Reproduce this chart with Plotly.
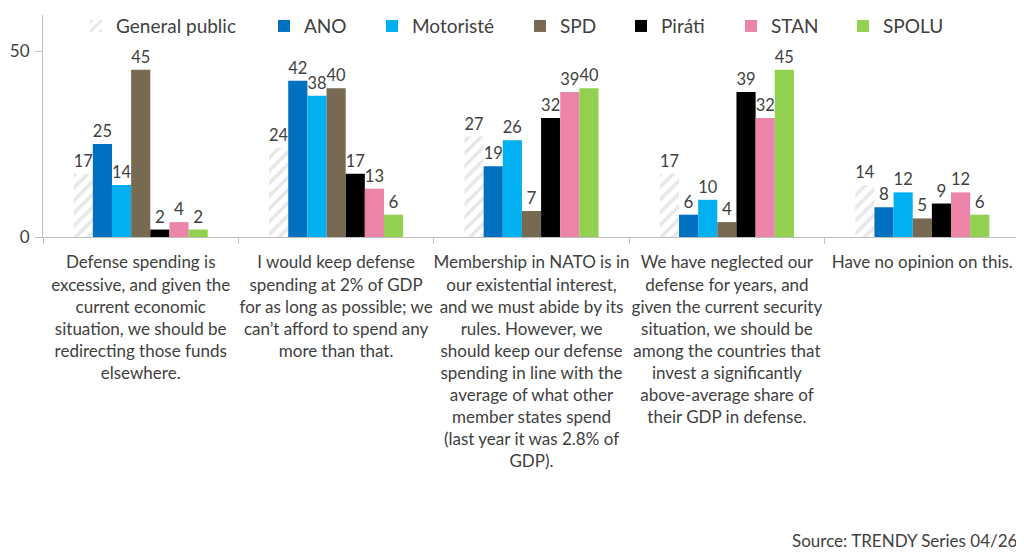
import plotly.graph_objects as go

categories = [
    "Defense spending is<br>excessive, and given the<br>current economic<br>situation, we should be<br>redirecting those funds<br>elsewhere.",
    "I would keep defense<br>spending at 2% of GDP<br>for as long as possible; we<br>can’t afford to spend any<br>more than that.",
    "Membership in NATO is in<br>our existential interest,<br>and we must abide by its<br>rules. However, we<br>should keep our defense<br>spending in line with the<br>average of what other<br>member states spend<br>(last year it was 2.8% of<br>GDP).",
    "We have neglected our<br>defense for years, and<br>given the current security<br>situation, we should be<br>among the countries that<br>invest a significantly<br>above-average share of<br>their GDP in defense.",
    "Have no opinion on this.",
]

general_public = [17, 24, 27, 17, 14]
ano = [25, 42, 19, 6, 8]
motoriste = [14, 38, 26, 10, 12]
spd = [45, 40, 7, 4, 5]
pirati = [2, 17, 32, 39, 9]
stan = [4, 13, 39, 32, 12]
spolu = [2, 6, 40, 45, 6]

series = [
    ("ANO", ano, "#0070C0"),
    ("Motoristé", motoriste, "#00B0F0"),
    ("SPD", spd, "#786A52"),
    ("Piráti", pirati, "#000000"),
    ("STAN", stan, "#EC84A9"),
    ("SPOLU", spolu, "#92D050"),
]

FONT = "Lato"
TXT = "#404040"

# the page sits 8px in from the window edge, so the plot box is set in figure px
PL, PR, PT, PB = 35, 1012, 7, 229
W, H = 1024, 559

# where each legend square sits in the window (one legend per entry)
legend_sq = [95, 283, 391, 539, 640, 750, 862]

fig = go.Figure()

# hatched bar for the general public
fig.add_trace(go.Bar(
    name="General public", x=categories, y=general_public,
    text=general_public, textposition="outside",
    marker=dict(color="white", line_width=0,
                pattern=dict(shape="/", fgcolor="#d0d0d0", bgcolor="white",
                             size=9, solidity=0.4)),
    textfont=dict(family=FONT, size=17, color=TXT),
    cliponaxis=False, legend="legend",
))

for i, (name, vals, col) in enumerate(series):
    fig.add_trace(go.Bar(
        name=name, x=categories, y=vals,
        text=vals, textposition="outside",
        marker=dict(color=col, line_width=0),
        textfont=dict(family=FONT, size=17, color=TXT),
        cliponaxis=False, legend="legend%d" % (i + 2),
    ))

fig.add_annotation(
    text="Source: TRENDY Series 04/26", xref="paper", yref="paper",
    x=1, y=-(540 - 8 - PB) / (PB - PT), xanchor="right", yanchor="middle",
    showarrow=False, font=dict(family=FONT, size=17, color=TXT),
)

legends = {}
for i, sq in enumerate(legend_sq):
    key = "legend" if i == 0 else "legend%d" % (i + 1)
    legends[key] = dict(
        orientation="h", x=(sq - 19 - 8 - PL) / (PR - PL), y=0.95,
        xanchor="left", yanchor="middle", bgcolor="rgba(0,0,0,0)",
        font=dict(family=FONT, size=19, color=TXT),
    )

fig.update_layout(
    width=W, height=H, showlegend=True,
    barmode="group", bargap=0.314, bargroupgap=0,
    plot_bgcolor="white", paper_bgcolor="white",
    margin=dict(l=PL, r=W - PR, t=PT, b=H - PB, autoexpand=False),
    font=dict(family=FONT, size=17, color=TXT),
    **legends,
)
fig.update_xaxes(
    showline=True, linecolor="#bfbfbf", linewidth=1,
    ticks="outside", tickson="boundaries", ticklen=6, tickcolor="#bfbfbf",
    tickfont=dict(family=FONT, size=17, color=TXT), tickangle=0,
    ticklabelstandoff=10, showgrid=False,
)
fig.update_yaxes(
    range=[0, 59.7], tickvals=[0, 50], showline=True, linecolor="#bfbfbf",
    ticks="outside", ticklen=7, tickcolor="#bfbfbf", showgrid=False,
    zeroline=False, ticklabelstandoff=2,
    tickfont=dict(family=FONT, size=17, color=TXT),
)

fig.write_html("out.html")
